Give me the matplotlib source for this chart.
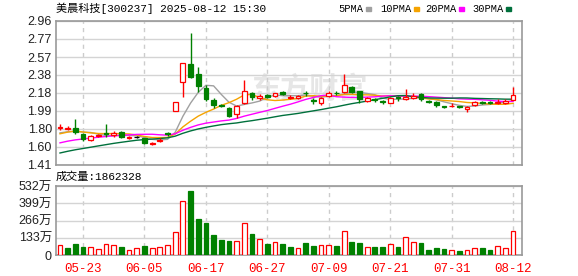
import matplotlib
matplotlib.use('Agg')
import numpy as np
import pandas as pd
import matplotlib.pyplot as plt
from matplotlib.patches import Rectangle

plt.rcParams['font.family'] = ['Liberation Sans', 'Noto Sans CJK SC']
monofont = ['Liberation Mono', 'Noto Sans CJK SC']

title = '美晨科技[300237] 2025-08-12 15:30'
vol_title = '成交量:1862328'

# daily candles 2025-05-20 .. 2025-08-12 (60 sessions)
opens = [1.81, 1.80, 1.81, 1.74, 1.68, 1.72, 1.75, 1.73, 1.77, 1.70,
         1.71, 1.70, 1.64, 1.67, 1.75, 1.99, 2.30, 2.50, 2.39, 2.24,
         2.11, 2.06, 2.02, 1.96, 2.08, 2.18, 2.13, 2.16, 2.15, 2.20,
         2.13, 2.13, 2.19, 2.11, 2.08, 2.15, 2.19, 2.20, 2.25, 2.21,
         2.10, 2.12, 2.10, 2.08, 2.14, 2.12, 2.13, 2.17, 2.10, 2.09,
         2.04, 2.04, 2.04, 2.01, 2.06, 2.09, 2.09, 2.08, 2.08, 2.11]
highs = [1.85, 1.83, 1.90, 1.75, 1.73, 1.74, 1.85, 1.78, 1.78, 1.72,
         1.72, 1.70, 1.66, 1.70, 1.76, 2.09, 2.51, 2.83, 2.46, 2.27,
         2.13, 2.07, 2.03, 2.06, 2.33, 2.20, 2.17, 2.17, 2.19, 2.21,
         2.16, 2.16, 2.21, 2.13, 2.14, 2.21, 2.21, 2.39, 2.26, 2.21,
         2.14, 2.13, 2.11, 2.14, 2.15, 2.23, 2.19, 2.18, 2.11, 2.10,
         2.05, 2.08, 2.05, 2.04, 2.10, 2.10, 2.10, 2.12, 2.12, 2.25]
lows = [1.79, 1.79, 1.74, 1.67, 1.67, 1.71, 1.71, 1.71, 1.70, 1.69,
        1.70, 1.64, 1.63, 1.66, 1.72, 1.99, 2.14, 2.35, 2.20, 2.10,
        2.02, 2.03, 1.93, 1.92, 2.07, 2.11, 2.11, 2.13, 2.14, 2.16,
        2.12, 2.12, 2.15, 2.07, 2.06, 2.14, 2.16, 2.19, 2.19, 2.08,
        2.09, 2.09, 2.07, 2.08, 2.10, 2.11, 2.12, 2.10, 2.08, 2.03,
        2.02, 2.03, 2.02, 1.98, 2.05, 2.07, 2.07, 2.07, 2.07, 2.11]
closes = [1.82, 1.81, 1.76, 1.69, 1.72, 1.73, 1.74, 1.75, 1.71, 1.71,
          1.71, 1.65, 1.65, 1.68, 1.74, 2.09, 2.51, 2.36, 2.26, 2.12,
          2.06, 2.05, 1.94, 2.05, 2.21, 2.14, 2.15, 2.14, 2.18, 2.17,
          2.14, 2.15, 2.18, 2.10, 2.13, 2.19, 2.18, 2.27, 2.20, 2.12,
          2.13, 2.11, 2.09, 2.13, 2.13, 2.14, 2.15, 2.12, 2.09, 2.06,
          2.03, 2.05, 2.03, 2.03, 2.09, 2.08, 2.08, 2.09, 2.10, 2.16]
# closes of the 29 sessions before the window, only needed for the MAs
prev_closes = [1.26, 1.27, 1.28, 1.30, 1.31, 1.33, 1.34, 1.36, 1.37, 1.39,
               1.45, 1.48, 1.50, 1.52, 1.55, 1.58, 1.60, 1.62, 1.60, 1.61,
               1.63, 1.64, 1.80, 1.81, 1.80, 1.75, 1.74, 1.73, 1.74]
# volume in 万
vols = [75, 54, 85, 62, 62, 46, 85, 77, 62, 39,
        54, 69, 54, 62, 77, 178, 416, 493, 278, 247,
        154, 116, 108, 108, 247, 162, 123, 85, 100, 85,
        62, 52, 93, 69, 75, 75, 69, 185, 100, 93,
        62, 62, 62, 85, 62, 139, 100, 93, 39, 54,
        46, 39, 31, 39, 52, 54, 39, 69, 54, 186.2328]
vol_dir = 'RGGGRRRRGRRGRRRRRGGGGGGRRGRGRGGRGGRRGRGGRGGRGRRGGGGRGRRGGRRR'

date_idx = [3, 11, 19, 27, 35, 43, 51, 59]
date_labels = ['05-23', '06-05', '06-17', '06-27', '07-09', '07-21', '07-31', '08-12']
price_ticklabels = ['1.41', '1.60', '1.80', '1.99', '2.18', '2.38', '2.57', '2.77', '2.96']
vol_tickvals = [0, 133, 266, 399, 532]
vol_ticklabels = ['0', '133万', '266万', '399万', '532万']
ma_windows = [5, 10, 20, 30]
ma_names = ['5PMA', '10PMA', '20PMA', '30PMA']
ma_colors = ['#a0a0a0', '#f5a300', '#ff00ff', '#00703c']

red = '#ff0000'; green = '#008000'
gridc = '#d4d4d4'; spinec = '#999999'
W = 578; H = 276

o = np.array(opens); h = np.array(highs); l = np.array(lows); c = np.array(closes)
x = np.arange(len(c))

fig = plt.figure(figsize=(W/100., H/100.), dpi=100)
ax = fig.add_axes([56./W, 1-165./H, 466./W, 144./H])
ax2 = fig.add_axes([56./W, 1-255./H, 466./W, 69./H])

# watermark
ax.text(0.545, 0.53, '东方财富', transform=ax.transAxes, fontsize=21,
        color='#e6e6e6', ha='center', va='center', zorder=0,
        family=['Noto Sans CJK SC'], fontweight='bold')

# moving averages
allc = pd.Series(prev_closes + closes)
for w, col in zip(ma_windows, ma_colors):
    ma = allc.rolling(w).mean().values[len(prev_closes):]
    ax.plot(x, ma, color=col, lw=1.0, zorder=2)

# candles
ccol = [red if c[i] > o[i] else (green if c[i] < o[i] else 'black') for i in x]
ax.vlines(x, l, h, colors=ccol, lw=1.0, zorder=3)
face = ['white' if col == red else col for col in ccol]
body = np.maximum(np.abs(c-o), 0.002)
ax.bar(x, body, bottom=np.minimum(o, c), width=0.62, color=face,
       edgecolor=ccol, lw=0.9, zorder=4)

ax.set_xlim(-0.52, 60.16)
ax.set_ylim(1.41, 2.96)
ax.set_yticks(np.linspace(1.41, 2.96, 9))
ax.set_yticklabels(price_ticklabels)
ax.set_xticks(date_idx)
ax.set_xticklabels([])

# volume
vcol = [red if d == 'R' else green for d in vol_dir]
vface = ['white' if d == 'R' else green for d in vol_dir]
ax2.bar(x, vols, width=0.62, color=vface, edgecolor=vcol, lw=0.9, zorder=3)
ax2.set_xlim(-0.52, 60.16)
ax2.set_ylim(0, 532)
ax2.set_yticks(vol_tickvals)
ax2.set_yticklabels(vol_ticklabels)
ax2.set_xticks(date_idx)
ax2.set_xticklabels(date_labels, color=red, family=monofont, fontsize=8)

for a in (ax, ax2):
    a.grid(axis='y', color=gridc, lw=1.0, ls='-', zorder=0)
    a.grid(axis='x', color='#cccccc', lw=1.0, ls=(0, (3, 3)), zorder=0)
    a.set_axisbelow(True)
    a.tick_params(length=0, labelsize=9, labelcolor='#222222', pad=3)
    for s in a.spines.values():
        s.set_color(spinec); s.set_linewidth(1.2)
ax2.tick_params(axis='x', labelcolor=red, pad=6)

fig.text(56./W, 1-8./H, title, fontsize=8, family=monofont, va='center', ha='left')
fig.text(56./W, 1-177./H, vol_title, fontsize=8, family=monofont, va='center', ha='left')

# legend across the top right
legx = [338, 380, 425, 472]
for name, col, lx in zip(ma_names, ma_colors, legx):
    t = fig.text(lx/float(W), 1-9./H, name, fontsize=7.5, family=['Liberation Mono'],
                 va='center', ha='left')
    fig.patches.append(Rectangle(((lx+6*len(name)+4)/float(W), 1-11./H), 5./W, 4./H,
                                 transform=fig.transFigure, color=col))

plt.savefig('out.png', dpi=100)
